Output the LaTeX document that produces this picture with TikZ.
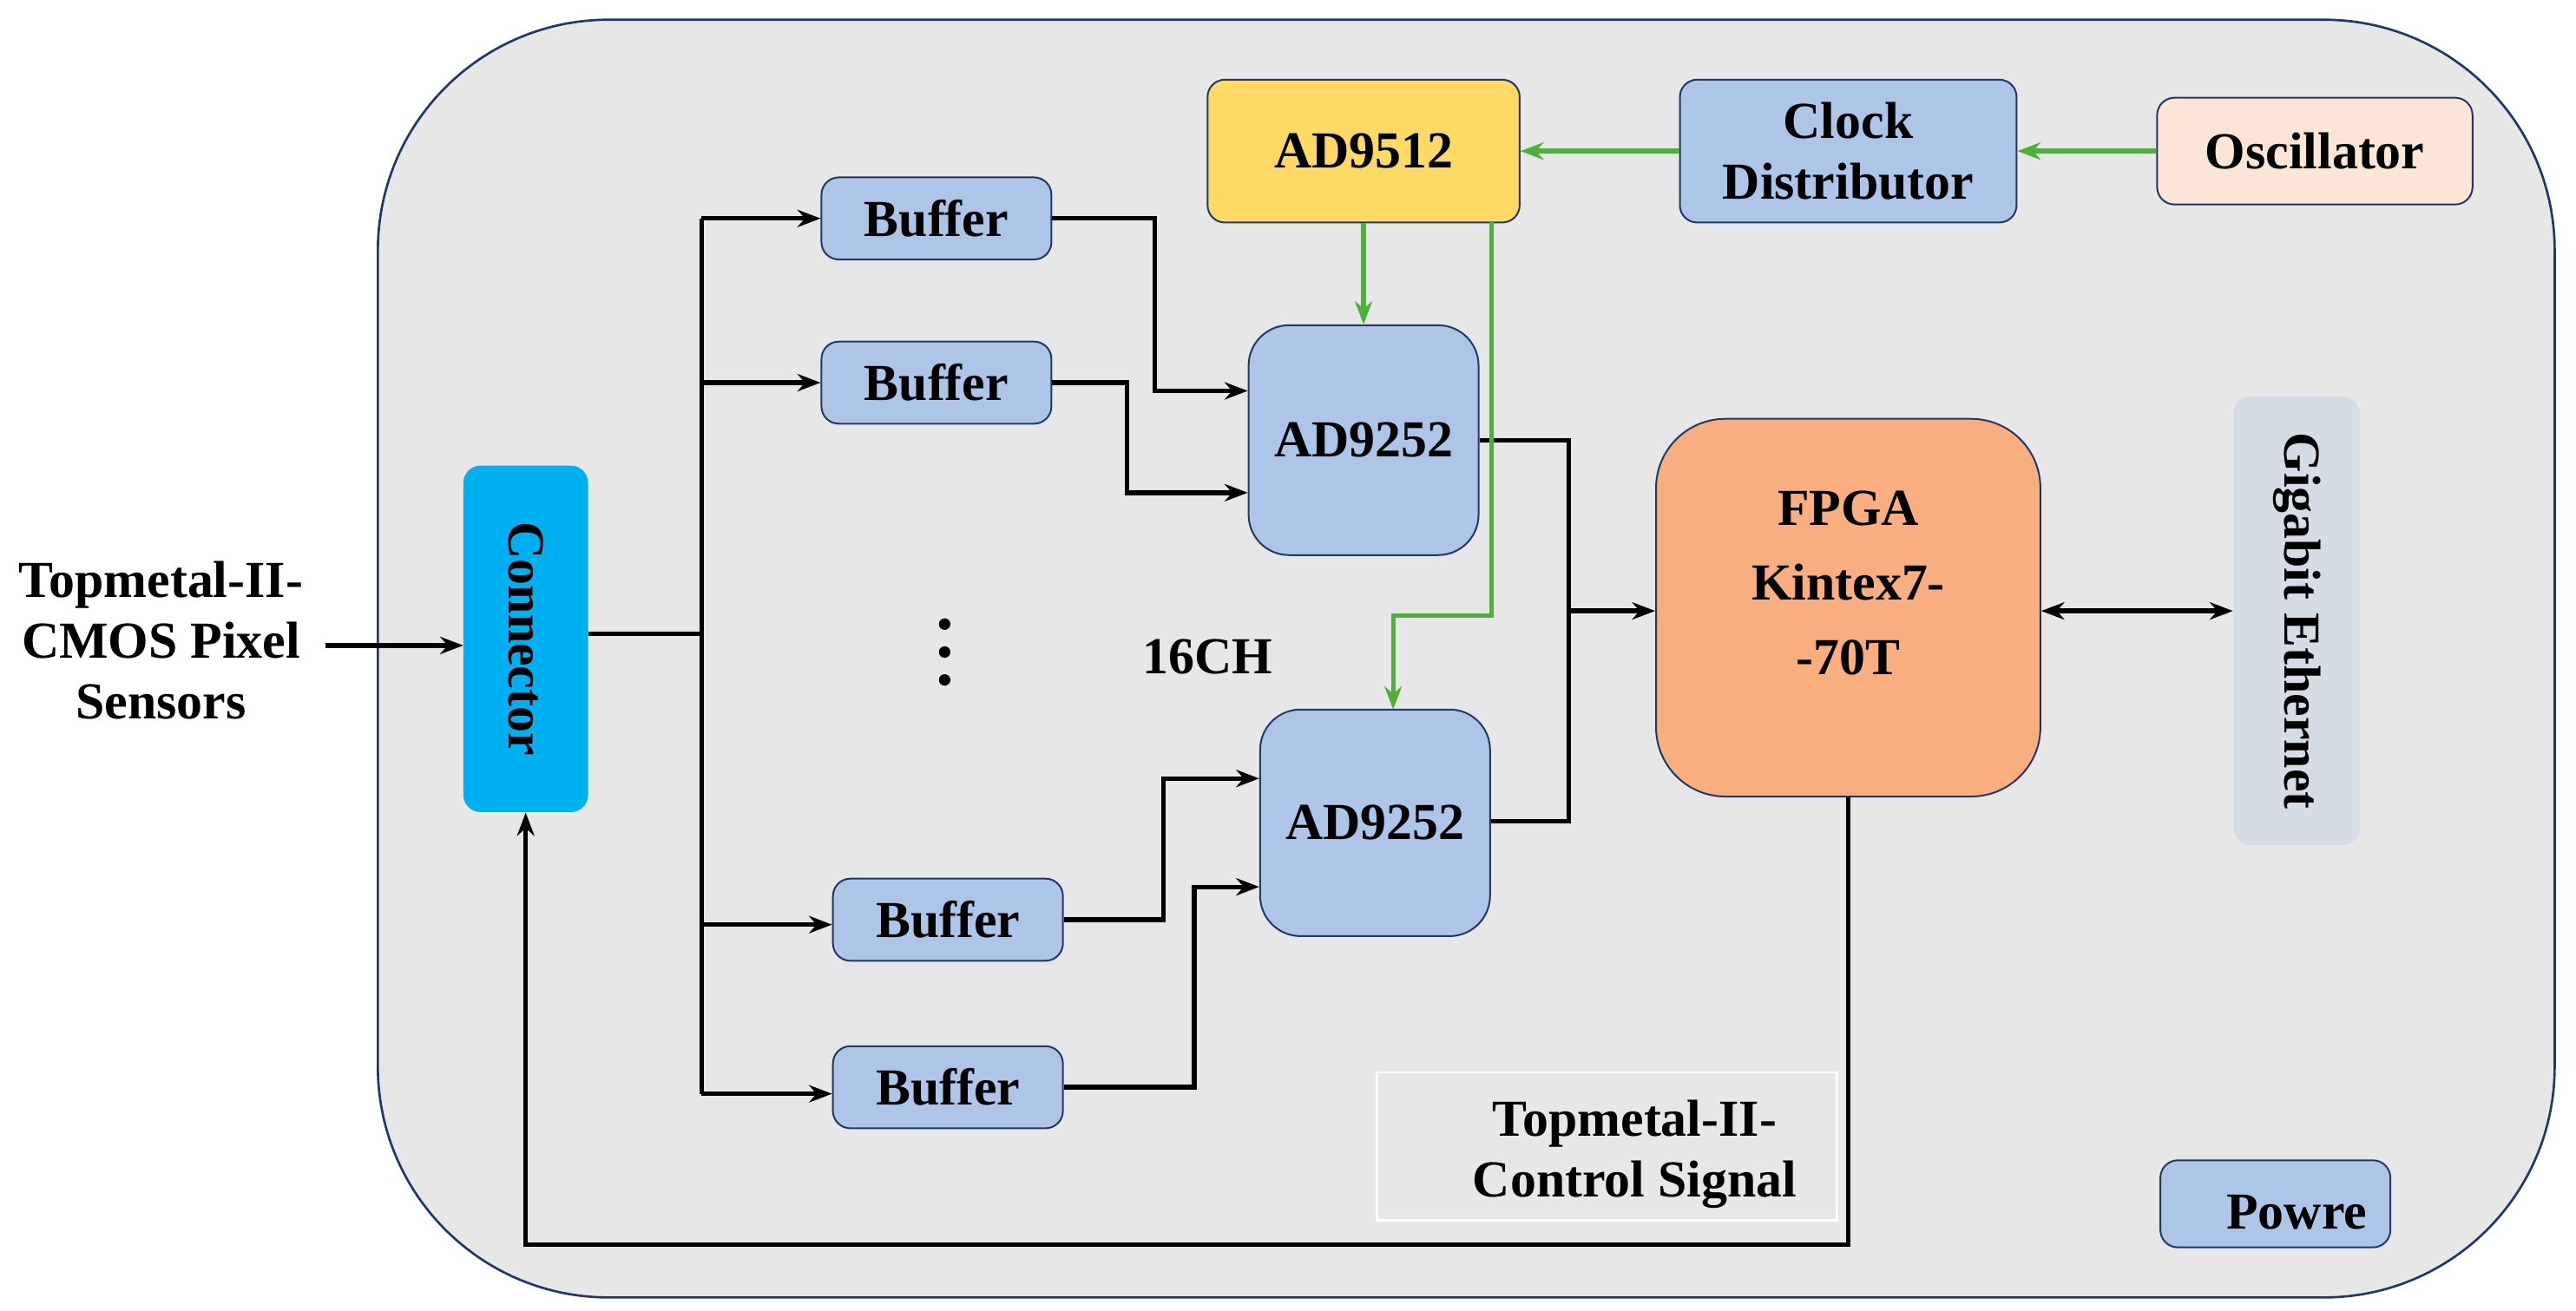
\documentclass[tikz,border=0pt]{standalone}
\usepackage{fontspec}
\setmainfont{Liberation Serif}
\usetikzlibrary{arrows.meta}
\definecolor{panel}{RGB}{231,231,231}
\definecolor{navy}{RGB}{32,56,100}
\definecolor{lblue}{RGB}{173,198,232}
\definecolor{ayellow}{RGB}{255,217,102}
\definecolor{peach}{RGB}{251,229,214}
\definecolor{salmon}{RGB}{248,174,126}
\definecolor{cyanb}{RGB}{0,176,240}
\definecolor{ether}{RGB}{214,220,229}
\definecolor{clk}{RGB}{80,175,60}
\begin{document}
\begin{tikzpicture}[x=0.02cm,y=-0.02cm,
  every node/.style={font=\fontsize{18}{21}\selectfont\bfseries,align=center,inner sep=0pt},
  blk/.style={draw=navy,line width=0.6pt,rounded corners=6pt,fill=lblue},
  sig/.style={line width=1.6pt,-{Stealth[length=8pt,width=6pt]}},
  line/.style={line width=1.6pt},
  gsig/.style={line width=1.6pt,clk,-{Stealth[length=8pt,width=6pt]}}]
\useasboundingbox (0,0) rectangle (1568,798);
\draw [navy,fill=panel,line width=0.8pt,rounded corners=80pt] (230,12) rectangle (1555,790);
% clock chain
\node [blk,fill=ayellow,minimum width=3.8cm,minimum height=1.74cm] (ad9512) at (830,92) {AD9512};
\node [blk,minimum width=4.1cm,minimum height=1.74cm] (clkd) at (1125,92) {Clock\\Distributor};
\node [blk,fill=peach,minimum width=3.84cm,minimum height=1.3cm] (osc) at (1409,92) {Oscillator};
% buffers
\node [blk,minimum width=2.8cm,minimum height=1cm] (buf1) at (570,133) {Buffer};
\node [blk,minimum width=2.8cm,minimum height=1cm] (buf2) at (570,233) {Buffer};
\node [blk,minimum width=2.8cm,minimum height=1cm] (buf3) at (577,560) {Buffer};
\node [blk,minimum width=2.8cm,minimum height=1cm] (buf4) at (577,662) {Buffer};
% adcs
\node [blk,rounded corners=14pt,minimum width=2.8cm,minimum height=2.8cm] (adcA) at (830,268) {AD9252};
\node [blk,rounded corners=14pt,minimum width=2.8cm,minimum height=2.76cm] (adcB) at (837,501) {AD9252};
\node [blk,fill=salmon,rounded corners=24pt,minimum width=4.68cm,minimum height=4.6cm] (fpga) at (1125,370) {};
\node at (1125,355) {FPGA\\[5pt]Kintex7-\\[5pt]-70T};
\node [draw=none,fill=ether,rounded corners=6pt,minimum width=1.54cm,minimum height=5.46cm] (eth) at (1398,378) {};
\node [rotate=-90] at (eth) {Gigabit Ethernet};
\node [draw=none,fill=cyanb,rounded corners=6pt,minimum width=1.52cm,minimum height=4.22cm] (conn) at (320,389) {};
\node [rotate=-90] at (conn) {Connector};
\node [blk,minimum width=2.8cm,minimum height=1.06cm] (pwr) at (1385,733) {};
\node at (1398,738) {Powre};
\node [draw=white,line width=0.8pt,minimum width=5.6cm,minimum height=1.8cm] (ctrl) at (978,698) {};
\node at (995,703) {Topmetal-II-\\Control Signal};
\node (ch) at (735,400) {16CH};
\node (sens) at (98,390) {Topmetal-II-\\CMOS Pixel\\Sensors};
\foreach \y in {380,397,414} \fill (575,\y) circle (3.5);
% data path
\coordinate (trk) at (427,386);
\draw [sig] (198,393) -- (282,393);
\draw [line] (358,386) -- (trk);
\draw [line] (427,133) -- (427,666);
\draw [sig] (427,133) -- (buf1.west);
\draw [sig] (427,233) -- (buf2.west);
\draw [sig] (427,563) -- (buf3.west |- 0,563);
\draw [sig] (427,666) -- (buf4.west |- 0,666);
\draw [sig] (buf1.east) -| (703,238) -- (adcA.west |- 0,238);
\draw [sig] (buf2.east) -| (686,300) -- (adcA.west |- 0,300);
\draw [sig] (buf3.east) -| (708,474) -- (adcB.west |- 0,474);
\draw [sig] (buf4.east) -| (727,540) -- (adcB.west |- 0,540);
\draw [line] (adcA.east) -| (955,500) -- (adcB.east |- 0,500);
\draw [sig] (955,372) -- (fpga.west |- 0,372);
\draw [line,{Stealth[length=8pt,width=6pt]}-{Stealth[length=8pt,width=6pt]}] (fpga.east |- 0,372) -- (eth.west |- 0,372);
\draw [sig] (fpga.south) -- (1125,758) -- (320,758) -- (conn.south);
% clock path
\draw [gsig] (osc.west) -- (clkd.east);
\draw [gsig] (clkd.west) -- (ad9512.east);
\draw [gsig] (ad9512.south) -- (adcA.north);
\draw [gsig] (908,135) -- (908,375) -- (848,375) -- (848,432);
\end{tikzpicture}
\end{document}
